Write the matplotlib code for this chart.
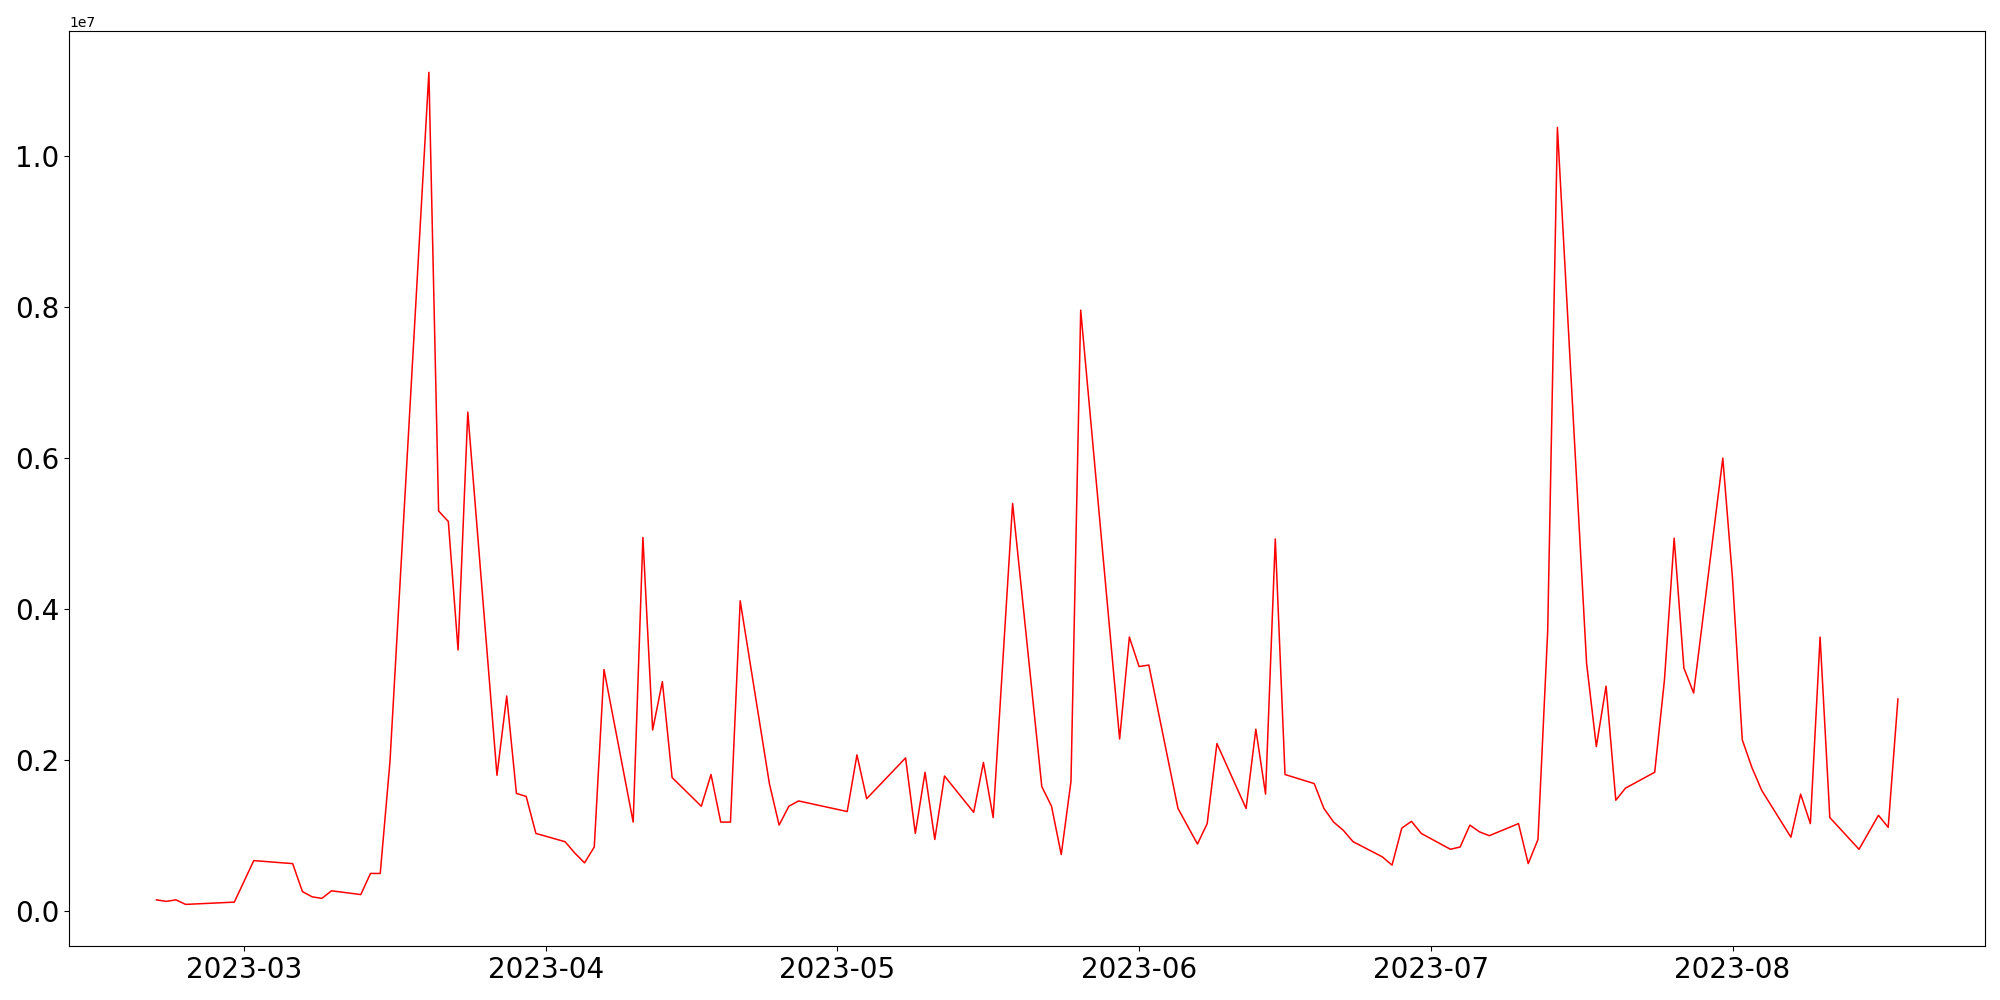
import matplotlib
matplotlib.use("Agg")
import matplotlib.pyplot as plt
import pandas as pd

dates = [
    "2023-02-20", "2023-02-21", "2023-02-22", "2023-02-23", "2023-02-28",
    "2023-03-02", "2023-03-06", "2023-03-07", "2023-03-08", "2023-03-09",
    "2023-03-10", "2023-03-13", "2023-03-14", "2023-03-15", "2023-03-16",
    "2023-03-20", "2023-03-21", "2023-03-22", "2023-03-23", "2023-03-24",
    "2023-03-27", "2023-03-28", "2023-03-29", "2023-03-30", "2023-03-31",
    "2023-04-03", "2023-04-04", "2023-04-05", "2023-04-06", "2023-04-07",
    "2023-04-10", "2023-04-11", "2023-04-12", "2023-04-13", "2023-04-14",
    "2023-04-17", "2023-04-18", "2023-04-19", "2023-04-20", "2023-04-21",
    "2023-04-24", "2023-04-25", "2023-04-26", "2023-04-27", "2023-05-02",
    "2023-05-03", "2023-05-04", "2023-05-08", "2023-05-09", "2023-05-10",
    "2023-05-11", "2023-05-12", "2023-05-15", "2023-05-16", "2023-05-17",
    "2023-05-19", "2023-05-22", "2023-05-23", "2023-05-24", "2023-05-25",
    "2023-05-26", "2023-05-30", "2023-05-31", "2023-06-01", "2023-06-02",
    "2023-06-05", "2023-06-07", "2023-06-08", "2023-06-09", "2023-06-12",
    "2023-06-13", "2023-06-14", "2023-06-15", "2023-06-16", "2023-06-19",
    "2023-06-20", "2023-06-21", "2023-06-22", "2023-06-23", "2023-06-26",
    "2023-06-27", "2023-06-28", "2023-06-29", "2023-06-30", "2023-07-03",
    "2023-07-04", "2023-07-05", "2023-07-06", "2023-07-07", "2023-07-10",
    "2023-07-11", "2023-07-12", "2023-07-13", "2023-07-14", "2023-07-17",
    "2023-07-18", "2023-07-19", "2023-07-20", "2023-07-21", "2023-07-24",
    "2023-07-25", "2023-07-26", "2023-07-27", "2023-07-28", "2023-07-31",
    "2023-08-01", "2023-08-02", "2023-08-03", "2023-08-04", "2023-08-07",
    "2023-08-08", "2023-08-09", "2023-08-10", "2023-08-11", "2023-08-14",
    "2023-08-16", "2023-08-17", "2023-08-18",
]

values_millions = [
    0.15, 0.13, 0.15, 0.09, 0.12,
    0.67, 0.63, 0.26, 0.19, 0.17,
    0.27, 0.22, 0.50, 0.50, 1.98,
    11.11, 5.30, 5.16, 3.46, 6.61,
    1.80, 2.85, 1.56, 1.52, 1.03,
    0.92, 0.77, 0.64, 0.85, 3.20,
    1.18, 4.95, 2.40, 3.04, 1.77,
    1.39, 1.81, 1.18, 1.18, 4.11,
    1.69, 1.14, 1.39, 1.46, 1.32,
    2.07, 1.49, 2.03, 1.03, 1.84,
    0.95, 1.79, 1.31, 1.97, 1.24,
    5.40, 1.65, 1.39, 0.75, 1.72,
    7.96, 2.28, 3.63, 3.24, 3.26,
    1.36, 0.89, 1.16, 2.22, 1.36,
    2.41, 1.55, 4.93, 1.81, 1.69,
    1.36, 1.18, 1.07, 0.92, 0.72,
    0.61, 1.10, 1.19, 1.03, 0.82,
    0.85, 1.14, 1.05, 1.00, 1.16,
    0.63, 0.95, 3.71, 10.38, 3.28,
    2.18, 2.98, 1.47, 1.63, 1.84,
    3.06, 4.94, 3.22, 2.89, 6.00,
    4.40, 2.27, 1.90, 1.60, 0.98,
    1.55, 1.16, 3.63, 1.24, 0.82,
    1.27, 1.11, 2.81,
]

x = pd.to_datetime(dates)
y = [v * 1e6 for v in values_millions]

fig, ax = plt.subplots(figsize=(20, 10), dpi=100)
fig.subplots_adjust(left=0.0347, right=0.9925, top=0.9693, bottom=0.054)
ax.plot(x, y, color="red", linewidth=1.1)
ax.tick_params(axis="both", labelsize=20)

fig.savefig("out.png", dpi=100)
